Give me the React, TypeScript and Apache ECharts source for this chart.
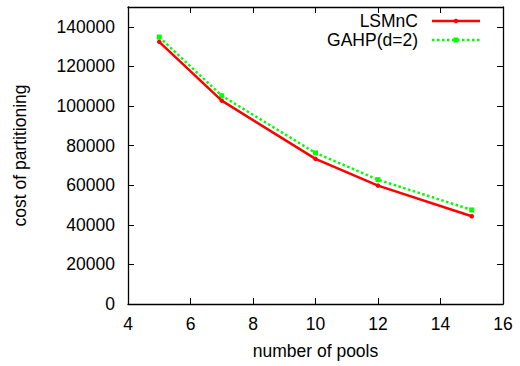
import React, { useEffect, useRef } from "react";
import * as echarts from "echarts";

const pools = [5, 7, 10, 12, 15];
const lsmnc = [132400, 102700, 73300, 59800, 44300];
const gahp = [134800, 105200, 76300, 62800, 47500];
const seriesNames = ["LSMnC", "GAHP(d=2)"];
const xTitle = "number of pools";
const yTitle = "cost of partitioning";

const FONT = "Liberation Sans, Arial, sans-serif";
const FS = 17.5;
const RED = "#ff0000";
const GREEN = "#00ff00";

export default function App() {
  const ref = useRef<HTMLDivElement>(null);
  useEffect(() => {
    if (!ref.current) return;
    const chart = echarts.init(ref.current, null, { renderer: "svg" });
    const axisCommon = {
      axisLine: { show: true, onZero: false, lineStyle: { color: "#000", width: 1.3 } },
      axisTick: { show: true, inside: true, length: 6, lineStyle: { color: "#000", width: 1 } },
      splitLine: { show: false },
    };
    const legendRows = [
      { name: seriesNames[0], y: 21, color: RED, dash: undefined as any, mark: "circle" },
      { name: seriesNames[1], y: 40, color: GREEN, dash: [2.5, 2.5], mark: "rect" },
    ];
    const graphic: any[] = [];
    legendRows.forEach((r) => {
      graphic.push({
        type: "text",
        x: 418,
        y: r.y,
        style: { text: r.name, fontFamily: FONT, fontSize: FS, fill: "#000", align: "right", verticalAlign: "middle" },
      });
      graphic.push({
        type: "line",
        shape: { x1: 432, y1: r.y, x2: 480, y2: r.y },
        style: { stroke: r.color, lineWidth: 2.5, lineDash: r.dash },
      });
      if (r.mark === "circle") {
        graphic.push({ type: "circle", shape: { cx: 456, cy: r.y, r: 2.2 }, style: { fill: r.color } });
      } else {
        graphic.push({ type: "rect", shape: { x: 453.5, y: r.y - 2.5, width: 5, height: 5 }, style: { fill: r.color } });
      }
    });
    chart.setOption({
      animation: false,
      backgroundColor: "#fff",
      grid: { left: 128, right: 17, top: 7, bottom: 62, containLabel: false },
      graphic,
      xAxis: [
        {
          type: "value",
          min: 4,
          max: 16,
          interval: 2,
          ...axisCommon,
          axisLabel: { fontFamily: FONT, fontSize: FS, color: "#000", margin: 11 },
          name: xTitle,
          nameLocation: "middle",
          nameGap: 38,
          nameTextStyle: { fontFamily: FONT, fontSize: FS, color: "#000" },
        },
        {
          type: "value",
          position: "top",
          min: 4,
          max: 16,
          interval: 2,
          ...axisCommon,
          axisLabel: { show: false },
        },
      ],
      yAxis: [
        {
          type: "value",
          min: 0,
          max: 150000,
          interval: 20000,
          ...axisCommon,
          axisLabel: {
            fontFamily: FONT,
            fontSize: FS,
            color: "#000",
            margin: 13,
            showMaxLabel: false,
            formatter: (v: number) => (v === 150000 ? "" : String(v)),
          },
          name: yTitle,
          nameLocation: "middle",
          nameGap: 99,
          nameTextStyle: { fontFamily: FONT, fontSize: FS, color: "#000" },
        },
        {
          type: "value",
          position: "right",
          min: 0,
          max: 150000,
          interval: 20000,
          ...axisCommon,
          axisLabel: { show: false },
        },
      ],
      series: [
        {
          name: seriesNames[0],
          type: "line",
          data: pools.map((x, i) => [x, lsmnc[i]]),
          color: RED,
          lineStyle: { color: RED, width: 2.5 },
          symbol: "circle",
          symbolSize: 4.5,
          itemStyle: { color: RED },
          z: 3,
        },
        {
          name: seriesNames[1],
          type: "line",
          data: pools.map((x, i) => [x, gahp[i]]),
          color: GREEN,
          lineStyle: { color: GREEN, width: 2.5, type: [2.5, 2.5] },
          symbol: "rect",
          symbolSize: 5,
          itemStyle: { color: GREEN },
          z: 2,
        },
      ],
    });
    return () => chart.dispose();
  }, []);
  return (
    <div
      ref={ref}
      style={{ position: "fixed", left: 0, top: 0, width: 520, height: 366, background: "#fff" }}
    />
  );
}
